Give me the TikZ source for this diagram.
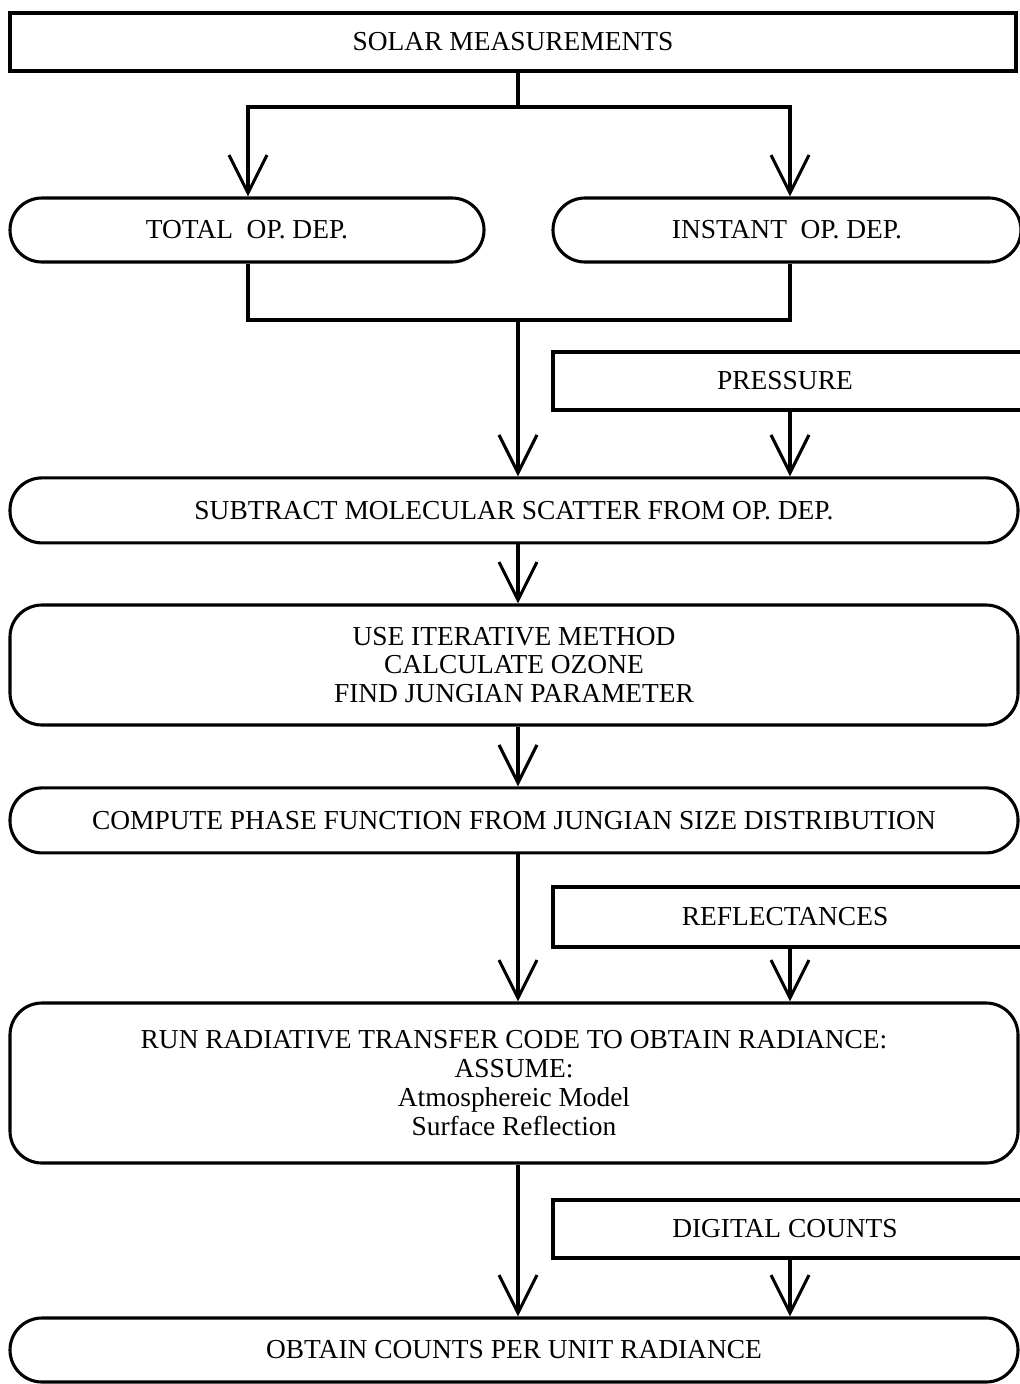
\documentclass[tikz,border=0pt]{standalone}
\usepackage{fontspec}
\setmainfont{Liberation Serif}
\usepackage{tikz}
\usetikzlibrary{calc,arrows.meta}
\tikzset{
  box/.style={draw=black, line width=2.2pt, rectangle, align=center, inner sep=0pt},
  pill/.style={box, rounded corners=0.8cm},
  link/.style={draw=black, line width=2.2pt},
  flow/.style={link, -{Straight Barb[length=0.95cm, width=0.95cm, line width=2.2pt]}},
  lab/.style={font=\fontsize{19.5}{20.5}\selectfont}
}

\begin{document}
\begin{tikzpicture}
  \clip (0,0) rectangle (25.5,-34.6);       % page = reference frame

  \coordinate (mid)  at (12.95,0);          % main column
  \coordinate (lcol) at (6.2,0);            % left branch
  \coordinate (rcol) at (19.75,0);          % right side inputs

  \node[box, lab, minimum width=25.15cm, minimum height=1.45cm] (solar) at (12.825,-1.05) {SOLAR MEASUREMENTS};
  \node[pill, lab, minimum width=11.85cm, minimum height=1.6cm] (total) at (6.175,-5.75) {TOTAL~ OP. DEP.};
  \node[pill, lab, minimum width=11.7cm, minimum height=1.6cm] (instant) at (19.675,-5.75) {INSTANT~ OP. DEP.};
  \node[box, lab, minimum width=12.2cm, minimum height=1.45cm] (pressure) at (19.925,-9.525) {\hspace*{-0.6cm}PRESSURE};
  \node[pill, lab, minimum width=25.2cm, minimum height=1.625cm] (subtract) at (12.85,-12.76) {SUBTRACT MOLECULAR SCATTER FROM OP. DEP.};
  \node[pill, lab, minimum width=25.2cm, minimum height=3.0cm] (iterate) at (12.85,-16.625)
    {USE ITERATIVE METHOD\\CALCULATE OZONE\\FIND JUNGIAN PARAMETER};
  \node[pill, lab, minimum width=25.2cm, minimum height=1.625cm] (compute) at (12.85,-20.51) {COMPUTE PHASE FUNCTION FROM JUNGIAN SIZE DISTRIBUTION};
  \node[box, lab, minimum width=12.2cm, minimum height=1.5cm] (reflect) at (19.925,-22.925) {\hspace*{-0.6cm}REFLECTANCES};
  \node[pill, lab, minimum width=25.2cm, minimum height=4.0cm] (radiance) at (12.85,-27.075)
    {RUN RADIATIVE TRANSFER CODE TO OBTAIN RADIANCE:\\ASSUME:\\Atmosphereic Model\\Surface Reflection};
  \node[box, lab, minimum width=12.2cm, minimum height=1.45cm] (counts) at (19.925,-30.725) {\hspace*{-0.6cm}DIGITAL COUNTS};
  \node[pill, lab, minimum width=25.2cm, minimum height=1.6cm] (obtain) at (12.85,-33.75) {OBTAIN COUNTS PER UNIT RADIANCE};

  % split of the solar measurements
  \coordinate (split) at ($(mid)+(0,-2.675)$);
  \draw[link] (solar.south -| mid) -- (split);
  \draw[flow] (split) -| (total.north -| lcol);
  \draw[flow] (split) -| (instant.north -| rcol);

  % both optical depths join
  \coordinate (join) at ($(mid)+(0,-8.0)$);
  \draw[link] (total.south -| lcol) |- (join);
  \draw[link] (instant.south -| rcol) |- (join);
  \draw[flow] (join) -- (subtract.north -| mid);
  \draw[flow] (pressure.south -| rcol) -- (subtract.north -| rcol);

  \draw[flow] (subtract.south -| mid) -- (iterate.north -| mid);
  \draw[flow] (iterate.south -| mid) -- (compute.north -| mid);

  \draw[flow] (compute.south -| mid) -- (radiance.north -| mid);
  \draw[flow] (reflect.south -| rcol) -- (radiance.north -| rcol);

  \draw[flow] (radiance.south -| mid) -- (obtain.north -| mid);
  \draw[flow] (counts.south -| rcol) -- (obtain.north -| rcol);
\end{tikzpicture}
\end{document}
